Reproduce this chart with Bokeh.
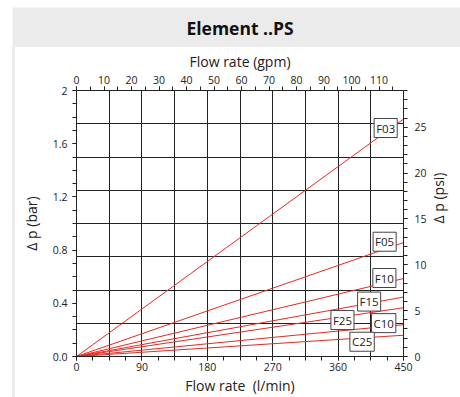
import numpy as np
from bokeh.plotting import figure
from bokeh.models import Range1d, LinearAxis, FixedTicker, Label, PrintfTickFormatter, Spacer
from bokeh.layouts import column, row
from bokeh.embed import file_html
from bokeh.resources import INLINE
from bokeh.core.properties import value

# ---------------- data ----------------
title_text = "Element ..PS"
series_names = ["F03", "F05", "F10", "F15", "F25", "C10", "C25"]
flow_lmin = [0, 450]
dp_bar_end = [1.785, 0.856, 0.586, 0.447, 0.367, 0.239, 0.160]
label_flow = [425.5, 424.0, 423.7, 402.7, 366.0, 422.7, 393.0]
label_dp = [1.718, 0.863, 0.590, 0.413, 0.274, 0.251, 0.111]
x_ticks = [0, 90, 180, 270, 360, 450]
y_ticks = [0.0, 0.4, 0.8, 1.2, 1.6, 2.0]
gpm_ticks = [0, 10, 20, 30, 40, 50, 60, 70, 80, 90, 100, 110]
psi_ticks = [0, 5, 10, 15, 20, 25]
LMIN_PER_GPM = 3.78541
PSI_PER_BAR = 14.5038

FONT = "Open Sans"
INK = "#222222"
GRID = "#222222"
RED = "#ec2620"
BAND = "#ebebeb"

# ---------------- title band ----------------
t = figure(width=448, height=40, x_range=Range1d(0, 1), y_range=Range1d(0, 1),
           toolbar_location=None, output_backend="svg", min_border=0,
           x_axis_location=None, y_axis_location=None)
t.grid.visible = False
t.background_fill_color = BAND
t.border_fill_color = BAND
t.outline_line_color = None
t.text(x=[0.508], y=[0.5], text=[title_text], text_align="center", text_baseline="middle",
       text_font=value(FONT), text_font_style="bold", text_font_size="17.5px", text_color="#111111")

# ---------------- chart ----------------
p = figure(width=445, height=350, x_range=Range1d(0, 450), y_range=Range1d(0, 2),
           toolbar_location=None, output_backend="svg",
           min_border_left=61, min_border_right=54, min_border_top=43, min_border_bottom=39)
p.background_fill_color = "white"
p.border_fill_color = "white"
p.outline_line_color = INK

p.extra_x_ranges = {"gpm": Range1d(0, 450 / LMIN_PER_GPM)}
p.extra_y_ranges = {"psi": Range1d(0, 2 * PSI_PER_BAR)}

p.xgrid.ticker = FixedTicker(ticks=list(np.arange(0, 451, 45)))
p.ygrid.ticker = FixedTicker(ticks=list(np.arange(0, 2.01, 0.25)))
for g in (p.xgrid, p.ygrid):
    g.grid_line_color = GRID
    g.grid_line_alpha = 1.0
    g.grid_line_width = 1


def style_axis(ax):
    ax.axis_line_color = INK
    ax.major_tick_line_color = INK
    ax.minor_tick_line_color = INK
    ax.major_tick_out = 4
    ax.major_tick_in = 0
    ax.minor_tick_out = 4
    ax.minor_tick_in = 0
    ax.major_label_text_font = FONT
    ax.major_label_text_font_size = "10.5px"
    ax.major_label_text_color = INK
    ax.axis_label_text_font = FONT
    ax.axis_label_text_font_size = "14px"
    ax.axis_label_text_font_style = "normal"
    ax.axis_label_text_color = INK


xb = p.xaxis[0]
xb.ticker = FixedTicker(ticks=x_ticks, minor_ticks=list(np.arange(0, 451, 22.5)))
xb.axis_label = "Flow rate \u00a0(l/min)"
style_axis(xb)
xb.major_label_standoff = 2
xb.axis_label_standoff = 2

yl = p.yaxis[0]
yl.ticker = FixedTicker(ticks=y_ticks, minor_ticks=list(np.round(np.arange(0, 2.01, 0.1), 2)))
yl.formatter = PrintfTickFormatter(format="%.1f")
yl.major_label_overrides = {2: "2"}
yl.axis_label = "\u0394 p (bar)"
style_axis(yl)
yl.major_label_standoff = 5
yl.axis_label_standoff = 9

xt = LinearAxis(x_range_name="gpm", axis_label="Flow rate (gpm)",
                ticker=FixedTicker(ticks=gpm_ticks, minor_ticks=list(range(0, 120, 5))))
style_axis(xt)
xt.major_label_standoff = 3
xt.axis_label_standoff = 2
p.add_layout(xt, "above")

yr = LinearAxis(y_range_name="psi",
                ticker=FixedTicker(ticks=psi_ticks, minor_ticks=list(range(0, 30))))
style_axis(yr)
yr.major_label_standoff = 7
yr.axis_label = "\u0394 p (psi)"
yr.axis_label_standoff = 9
if "axis_label_orientation" in yr.properties():
    yr.axis_label_orientation = np.pi / 2
p.add_layout(yr, "right")

for name, end in zip(series_names, dp_bar_end):
    p.line(x=flow_lmin, y=[0, end], line_color=RED, line_width=1)

for name, lx, ly in zip(series_names, label_flow, label_dp):
    p.add_layout(Label(x=lx, y=ly, text=name, text_align="center", text_baseline="middle",
                       text_font=FONT, text_font_size="11.5px", text_color=INK,
                       background_fill_color="white", border_line_color="#444444",
                       border_line_width=1, padding=2))

strip = Spacer(width=3, height=350, styles={"background-color": BAND})
layout = column(t, row(strip, p, spacing=0), spacing=0, margin=(7, 0, 0, 12))
open("out.html", "w").write(file_html(layout, INLINE))
